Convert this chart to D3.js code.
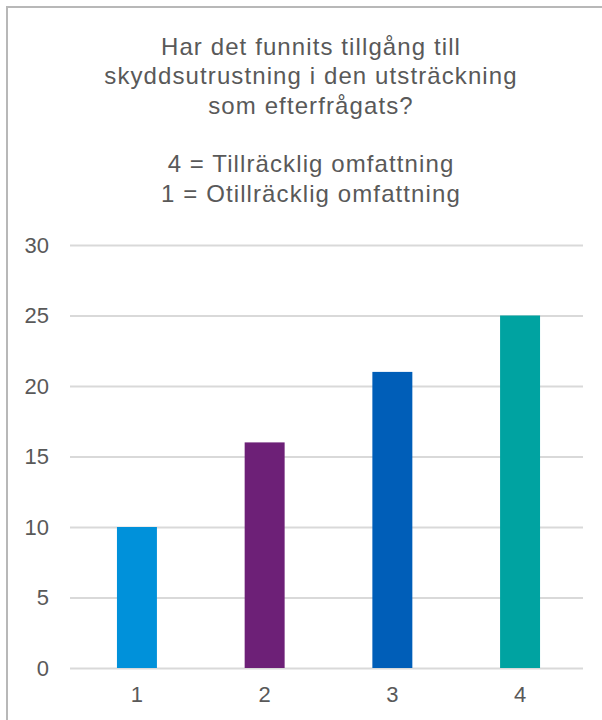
<!DOCTYPE html>
<html>
<head>
<meta charset="utf-8">
<script src="https://cdn.jsdelivr.net/npm/d3@7"></script>
<style>
  body { margin: 0; background: #fff; }
  svg { font-family: "Liberation Sans", Arial, sans-serif; }
  .tick text { fill: #595959; font-size: 22px; }
</style>
</head>
<body>
<div id="chart"></div>
<script>
// Chart frame
const FRAME_WIDTH = 602;
const FRAME_HEIGHT = 720;
const PLOT = {left: 70, right: 583, top: 245, bottom: 668};

// Data
const categories = ["1", "2", "3", "4"];
const values = [10, 16, 21, 25];
const barColors = ["#0091DA", "#6D2077", "#005EB8", "#00A3A1"];
const yTicks = [0, 5, 10, 15, 20, 25, 30];
const titleLines = [
  "Har det funnits tillgång till",
  "skyddsutrustning i den utsträckning",
  "som efterfrågats?",
  "",
  "4 = Tillräcklig omfattning",
  "1 = Otillräcklig omfattning"
];

const svg = d3.select("#chart")
  .append("svg")
    .attr("width", FRAME_WIDTH)
    .attr("height", FRAME_HEIGHT);

// border (only top and left edge visible in the crop)
svg.append("rect")
  .attr("x", 7).attr("y", 7)
  .attr("width", 700).attr("height", 800)
  .attr("fill", "none")
  .attr("stroke", "#b8b8b8")
  .attr("stroke-width", 2);

// title
svg.append("g")
  .selectAll("text")
  .data(titleLines)
  .enter()
  .append("text")
    .attr("x", 311)
    .attr("y", (d, i) => 55 + i * 29.3)
    .attr("text-anchor", "middle")
    .attr("fill", "#595959")
    .style("font-size", "24px")
    .style("letter-spacing", "1.1px")
    .text(d => d);

// bars sit a little right of the gridline centre
const xScale = d3.scaleBand()
  .domain(categories)
  .range([PLOT.left + 2, PLOT.right + 2])
  .paddingInner(0.687)
  .paddingOuter(0.352);

const yScale = d3.scaleLinear()
  .domain([0, 30])
  .range([PLOT.bottom, PLOT.top]);

// y axis with gridlines
const yAxis = svg.append("g")
  .attr("transform", "translate(" + PLOT.left + ",0)")
  .call(d3.axisLeft(yScale)
    .tickValues(yTicks)
    .tickSize(-(PLOT.right - PLOT.left))
    .tickPadding(21));
yAxis.select(".domain").remove();
yAxis.selectAll(".tick line")
  .attr("stroke", "#d9d9d9")
  .attr("stroke-width", 2);

// bars
svg.selectAll(".bar")
  .data(values)
  .enter()
  .append("rect")
    .attr("class", "bar")
    .attr("x", (d, i) => xScale(categories[i]))
    .attr("y", d => yScale(d))
    .attr("width", xScale.bandwidth())
    .attr("height", d => PLOT.bottom - yScale(d))
    .attr("fill", (d, i) => barColors[i]);

// x axis (baseline line drawn by the 0 gridline)
const xAxis = svg.append("g")
  .attr("transform", "translate(0," + PLOT.bottom + ")")
  .call(d3.axisBottom(xScale).tickSize(0).tickPadding(18));
xAxis.select(".domain").remove();
</script>
</body>
</html>
